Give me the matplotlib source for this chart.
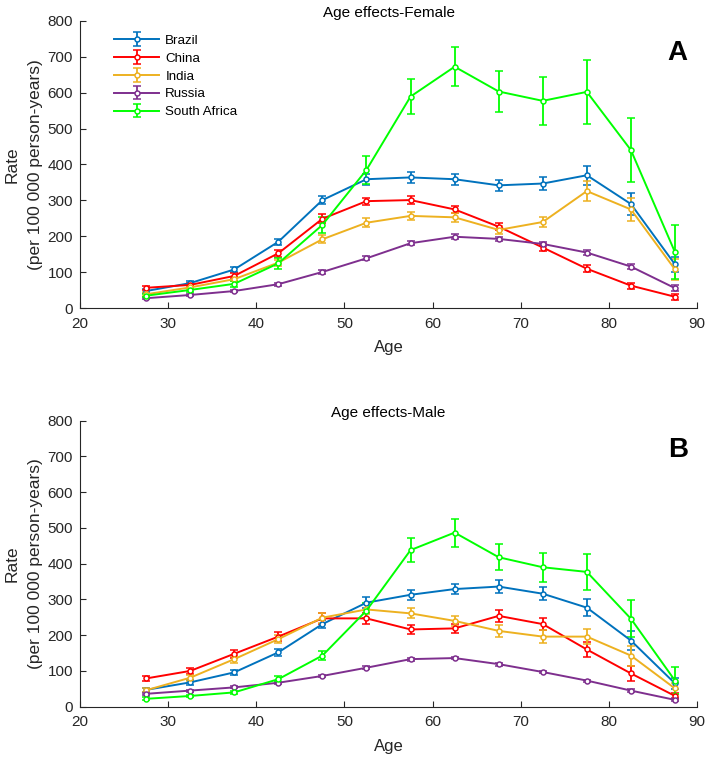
import matplotlib.pyplot as plt
import numpy as np

plt.rcParams['font.family'] = ['Liberation Sans', 'DejaVu Sans']

ages = [27.5, 32.5, 37.5, 42.5, 47.5, 52.5, 57.5, 62.5, 67.5, 72.5, 77.5, 82.5, 87.5]
countries = ["Brazil", "China", "India", "Russia", "South Africa"]
colors = ["#0072BD", "#FF0000", "#EDB120", "#7E2F8E", "#00FF00"]

# Female rates and error half-widths
female_brazil = [48, 70, 108, 185, 301, 359, 364, 359, 342, 347, 370, 290, 122]
female_china = [57, 65, 90, 153, 249, 298, 301, 275, 227, 169, 110, 63, 32]
female_india = [39, 58, 81, 127, 192, 238, 257, 253, 218, 240, 326, 275, 108]
female_russia = [28, 37, 48, 67, 101, 139, 181, 199, 193, 179, 155, 116, 56]
female_safrica = [35, 51, 68, 125, 232, 385, 589, 672, 603, 577, 602, 440, 156]

female_err_brazil = [5, 6, 8, 9, 12, 15, 16, 15, 15, 17, 26, 30, 20]
female_err_china = [6, 6, 7, 9, 12, 10, 12, 10, 10, 10, 10, 8, 8]
female_err_india = [5, 5, 6, 8, 11, 12, 12, 13, 12, 14, 28, 33, 30]
female_err_russia = [3, 3, 4, 4, 5, 6, 6, 7, 6, 6, 8, 8, 8]
female_err_safrica = [5, 6, 8, 15, 23, 38, 49, 55, 58, 66, 88, 88, 75]

# Male rates and error half-widths
male_brazil = [47, 68, 96, 152, 231, 291, 313, 329, 336, 316, 277, 185, 65]
male_china = [79, 100, 148, 196, 247, 247, 216, 219, 254, 231, 160, 93, 30]
male_india = [46, 81, 133, 189, 249, 272, 261, 240, 212, 196, 196, 143, 51]
male_russia = [36, 45, 54, 67, 86, 109, 133, 136, 119, 97, 73, 45, 19]
male_safrica = [22, 30, 40, 77, 143, 269, 438, 487, 418, 390, 377, 246, 73]

male_err_brazil = [6, 6, 8, 10, 12, 15, 14, 15, 18, 18, 24, 27, 15]
male_err_china = [7, 9, 11, 12, 15, 15, 12, 13, 17, 17, 20, 20, 8]
male_err_india = [6, 8, 10, 12, 14, 14, 14, 15, 17, 18, 22, 28, 15]
male_err_russia = [3, 3, 3, 3, 4, 4, 4, 4, 4, 3, 3, 4, 4]
male_err_safrica = [4, 4, 5, 8, 12, 20, 34, 39, 37, 41, 50, 52, 37]

female = [female_brazil, female_china, female_india, female_russia, female_safrica]
female_err = [female_err_brazil, female_err_china, female_err_india,
              female_err_russia, female_err_safrica]
male = [male_brazil, male_china, male_india, male_russia, male_safrica]
male_err = [male_err_brazil, male_err_china, male_err_india,
            male_err_russia, male_err_safrica]

axis_col = "#262626"

fig = plt.figure(figsize=(7.08, 7.58), dpi=100)
ax_f = fig.add_axes([0.113, 0.5933, 0.8715, 0.3794])
ax_m = fig.add_axes([0.113, 0.0677, 0.8715, 0.3773])


def draw_panel(ax, values, errors, title, letter, letter_y, legend=False):
    for name, col, y, e in zip(countries, colors, values, errors):
        ax.errorbar(ages, y, yerr=e, color=col, lw=1.4, elinewidth=1.3,
                    capsize=3.2, capthick=1.3, marker='o', ms=3.6,
                    mfc='white', mew=1.1, label=name)
    ax.set_xlim(20, 90)
    ax.set_ylim(0, 800)
    ax.set_xticks(np.arange(20, 91, 10))
    ax.set_yticks(np.arange(0, 801, 100))
    ax.spines['top'].set_visible(False)
    ax.spines['right'].set_visible(False)
    for s in ('left', 'bottom'):
        ax.spines[s].set_color(axis_col)
        ax.spines[s].set_linewidth(0.8)
    ax.tick_params(direction='in', length=4, colors=axis_col, labelsize=11)
    ax.tick_params(axis='x', pad=6)
    ax.tick_params(axis='y', pad=5)
    ax.set_title(title, fontsize=11, color="#000000", pad=2.5)
    ax.set_xlabel("Age", fontsize=12, labelpad=7, color=axis_col)
    ax.set_ylabel("Rate\n(per 100 000 person-years)", fontsize=12.5,
                  multialignment='center', labelpad=3, linespacing=1.75,
                  color=axis_col)
    ax.text(87.8, letter_y, letter, fontsize=20, fontweight='bold',
            ha='center', va='center')
    if legend:
        ax.legend(loc='upper left', bbox_to_anchor=(0.04, 0.985), frameon=False,
                  fontsize=9.6, handlelength=3.4, handletextpad=0.45,
                  labelspacing=0.42, borderaxespad=0.3)


draw_panel(ax_f, female, female_err, "Age effects-Female", "A", 710, legend=True)
draw_panel(ax_m, male, male_err, "Age effects-Male", "B", 718)

fig.savefig("out.png", dpi=100)
